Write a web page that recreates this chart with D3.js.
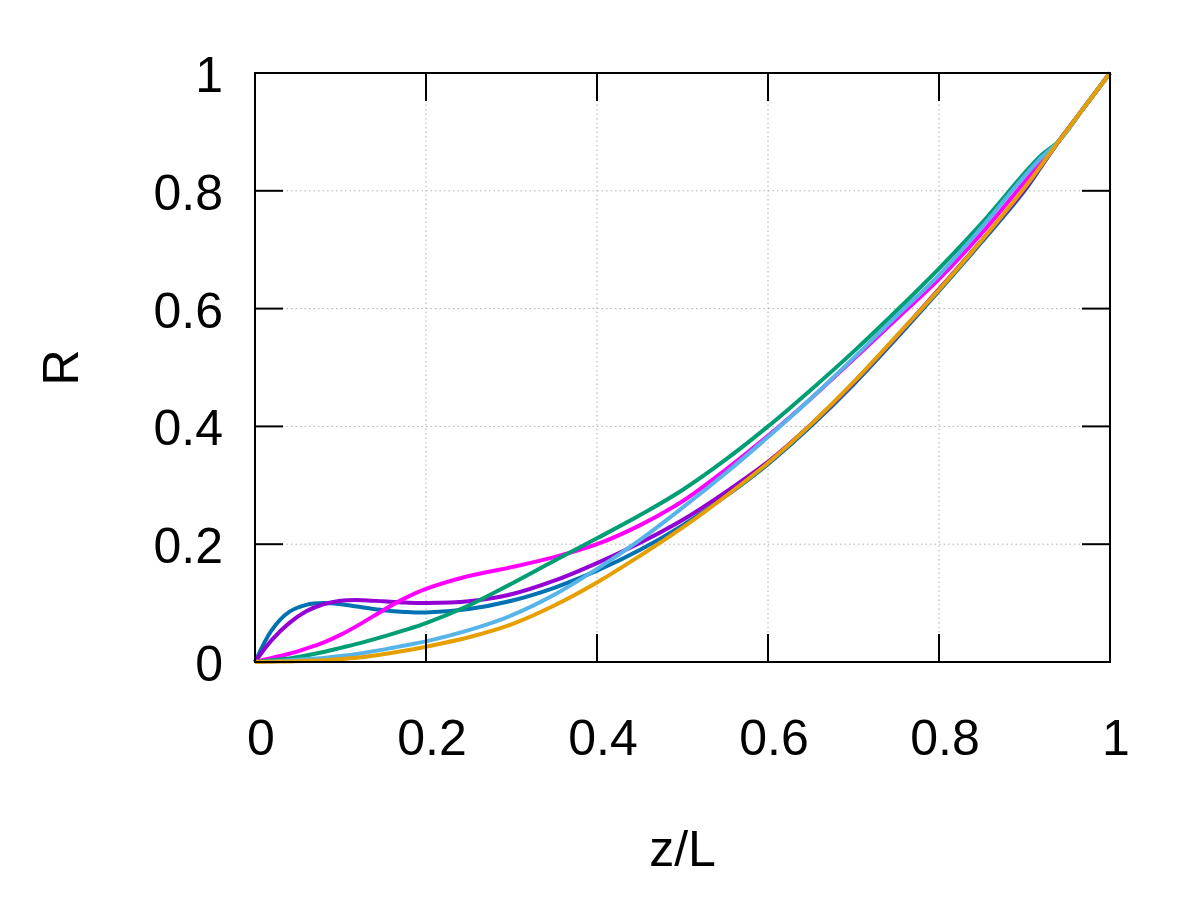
<!DOCTYPE html>
<html>
<head>
<meta charset="utf-8">
<script src="https://cdn.jsdelivr.net/npm/d3@7"></script>
<style>
  body { margin: 0; background: #fff; }
  svg text { font-family: "Liberation Sans", Arial, sans-serif; fill: #000; }
</style>
</head>
<body>
<div id="chart"></div>
<script>
// z/L sample points shared by every curve
var zGrid = [0, 0.02, 0.04, 0.06, 0.08, 0.1, 0.125, 0.15, 0.175, 0.2, 0.25, 0.3, 0.35, 0.4,
  0.45, 0.5, 0.55, 0.6, 0.65, 0.7, 0.75, 0.8, 0.85, 0.9, 0.92, 0.94, 0.97, 1];

var rBlue = [0, 0.055, 0.085, 0.097, 0.1, 0.098, 0.093, 0.088, 0.085, 0.084, 0.09, 0.104, 0.126, 0.155,
  0.19, 0.232, 0.281, 0.336, 0.4, 0.471, 0.549, 0.63, 0.713, 0.8, 0.842, 0.884, 0.942, 1];
var rPurple = [0, 0.038, 0.066, 0.086, 0.098, 0.104, 0.105, 0.103, 0.101, 0.1, 0.103, 0.115, 0.138, 0.168,
  0.202, 0.241, 0.288, 0.34, 0.403, 0.474, 0.552, 0.633, 0.716, 0.802, 0.843, 0.884, 0.942, 1];
var rMagenta = [0, 0.007, 0.014, 0.023, 0.033, 0.046, 0.066, 0.088, 0.108, 0.124, 0.146, 0.161, 0.178, 0.2,
  0.232, 0.273, 0.326, 0.384, 0.447, 0.514, 0.582, 0.65, 0.728, 0.815, 0.85, 0.884, 0.942, 1];
var rGreen = [0, 0.003, 0.006, 0.011, 0.017, 0.024, 0.033, 0.043, 0.054, 0.066, 0.096, 0.133, 0.172, 0.21,
  0.249, 0.292, 0.343, 0.4, 0.462, 0.527, 0.596, 0.668, 0.745, 0.83, 0.861, 0.884, 0.942, 1];
var rLightBlue = [0, 0.001, 0.003, 0.005, 0.007, 0.01, 0.015, 0.021, 0.028, 0.035, 0.054, 0.079, 0.114, 0.158,
  0.207, 0.262, 0.32, 0.382, 0.447, 0.516, 0.587, 0.657, 0.738, 0.825, 0.857, 0.884, 0.942, 1];
var rOrange = [0, 0.0005, 0.001, 0.002, 0.003, 0.005, 0.008, 0.013, 0.019, 0.026, 0.042, 0.064, 0.096, 0.135,
  0.18, 0.228, 0.281, 0.338, 0.403, 0.475, 0.553, 0.632, 0.716, 0.805, 0.844, 0.884, 0.942, 1];

var seriesValues = [rBlue, rPurple, rMagenta, rGreen, rLightBlue, rOrange];
var seriesColors = ["#0072b2", "#9400d3", "#ff00ff", "#009e73", "#56b4e9", "#e69f00"];

var xTicks = [0, 0.2, 0.4, 0.6, 0.8, 1];
var yTicks = [0, 0.2, 0.4, 0.6, 0.8, 1];
var xTickLabels = ["0", "0.2", "0.4", "0.6", "0.8", "1"];
var yTickLabels = ["0", "0.2", "0.4", "0.6", "0.8", "1"];

var draw_chart = function() {
  let W = 1196, H = 897;
  let pLeft = 255, pRight = 1110, pTop = 73, pBottom = 662;
  let tickLen = 28;

  let x = d3.scaleLinear().domain([0, 1]).range([pLeft, pRight]);
  let y = d3.scaleLinear().domain([0, 1]).range([pBottom, pTop]);

  let svg = d3.select("#chart").append("svg")
    .attr("width", W).attr("height", H);

  // dotted grid
  let grid = svg.append("g")
    .attr("stroke", "#b0b0b0").attr("stroke-width", 1).attr("stroke-dasharray", "1.5,3");
  grid.selectAll(".gx").data(xTicks.slice(1, -1)).enter().append("line")
    .attr("x1", d => x(d)).attr("x2", d => x(d))
    .attr("y1", pTop).attr("y2", pBottom);
  grid.selectAll(".gy").data(yTicks.slice(1, -1)).enter().append("line")
    .attr("y1", d => y(d)).attr("y2", d => y(d))
    .attr("x1", pLeft).attr("x2", pRight);

  // curves
  let line = d3.line()
    .x(d => x(d[0]))
    .y(d => y(d[1]))
    .curve(d3.curveCatmullRom.alpha(0.5));

  svg.append("g").selectAll("path")
    .data(seriesValues).enter().append("path")
    .attr("d", vals => line(zGrid.map((z, i) => [z, vals[i]])))
    .attr("fill", "none")
    .attr("stroke", (d, i) => seriesColors[i])
    .attr("stroke-width", 4)
    .attr("stroke-linejoin", "round");

  // inward ticks on all four sides
  let ticks = svg.append("g").attr("stroke", "#000").attr("stroke-width", 2);
  xTicks.forEach(function(t) {
    ticks.append("line").attr("x1", x(t)).attr("x2", x(t)).attr("y1", pBottom).attr("y2", pBottom - tickLen);
    ticks.append("line").attr("x1", x(t)).attr("x2", x(t)).attr("y1", pTop).attr("y2", pTop + tickLen);
  });
  yTicks.forEach(function(t) {
    ticks.append("line").attr("y1", y(t)).attr("y2", y(t)).attr("x1", pLeft).attr("x2", pLeft + tickLen);
    ticks.append("line").attr("y1", y(t)).attr("y2", y(t)).attr("x1", pRight).attr("x2", pRight - tickLen);
  });

  // frame
  svg.append("rect")
    .attr("x", pLeft).attr("y", pTop)
    .attr("width", pRight - pLeft).attr("height", pBottom - pTop)
    .attr("fill", "none").attr("stroke", "#000").attr("stroke-width", 2);

  // tick labels
  svg.append("g").selectAll("text").data(xTicks).enter().append("text")
    .attr("x", d => x(d) + 6)
    .attr("y", pBottom + 93)
    .attr("text-anchor", "middle")
    .attr("font-size", 50)
    .text((d, i) => xTickLabels[i]);

  svg.append("g").selectAll("text").data(yTicks).enter().append("text")
    .attr("x", pLeft - 32)
    .attr("y", d => y(d) + 19)
    .attr("text-anchor", "end")
    .attr("font-size", 50)
    .text((d, i) => yTickLabels[i]);

  // axis titles
  svg.append("text")
    .attr("x", (pLeft + pRight) / 2)
    .attr("y", 866)
    .attr("text-anchor", "middle")
    .attr("font-size", 50)
    .text("z/L");

  svg.append("text")
    .attr("transform", "translate(78," + ((pTop + pBottom) / 2) + ") rotate(-90)")
    .attr("text-anchor", "middle")
    .attr("font-size", 50)
    .text("R");
};

draw_chart();
</script>
</body>
</html>
